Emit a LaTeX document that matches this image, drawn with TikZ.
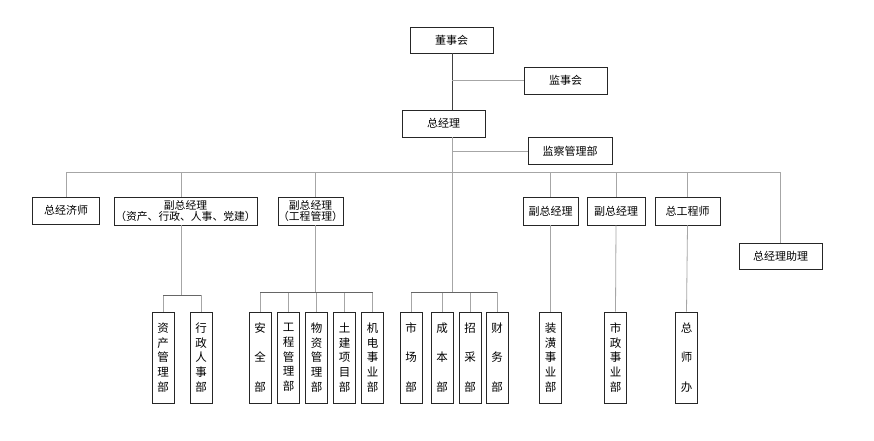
\documentclass[tikz,border=0pt]{standalone}
\usepackage{fontspec}
\newfontfamily\cjk{Noto Sans CJK SC}
\begin{document}
\begin{tikzpicture}[x=1pt,y=-1pt,
  box/.style={draw=black!85, line width=0.8pt, inner sep=0pt, font=\cjk\fontsize{11}{12}\selectfont, align=center},
  leaf/.style={box, minimum width=22pt, minimum height=91pt, font=\cjk\fontsize{11.5}{14.7}\selectfont},
  leafw/.style={leaf, font=\cjk\fontsize{11.5}{29.5}\selectfont},
  ln/.style={draw=black!35, line width=0.8pt},
  bus/.style={draw=black!60, line width=0.9pt},
  dark/.style={draw=black!75, line width=0.9pt}]
\useasboundingbox[fill=white] (0,0) rectangle (874,440);

% top levels
\node[box, minimum width=83pt, minimum height=26pt] (dsh) at (451.5,40) {董事会};
\node[box, minimum width=83pt, minimum height=27pt] (jsh) at (565.5,80.5) {监事会};
\node[box, minimum width=83pt, minimum height=27pt] (zjl) at (443.5,123.5) {总经理};
\node[box, minimum width=84pt, minimum height=27pt] (jcg) at (570,151) {监察管理部};

% level 2
\node[box, minimum width=67pt, minimum height=27pt] (zjjs) at (66,210.5) {总经济师};
\node[box, minimum width=143pt, minimum height=28pt, font=\cjk\fontsize{10.8}{11.5}\selectfont] (fz1) at (185.5,211) {副总经理\\（资产、行政、人事、党建）};
\node[box, minimum width=63pt, minimum height=28pt, font=\cjk\fontsize{10.8}{11.5}\selectfont] (fz2) at (310.5,211) {副总经理\\（工程管理）};
\node[box, minimum width=55pt, minimum height=28pt] (fz3) at (550.5,211) {副总经理};
\node[box, minimum width=58pt, minimum height=28pt] (fz4) at (616,211) {副总经理};
\node[box, minimum width=65pt, minimum height=28pt] (zgcs) at (687.5,211) {总工程师};
\node[box, minimum width=83pt, minimum height=26pt] (zjlzl) at (780.5,256) {总经理助理};

% leaves
\node[leaf] (zc) at (163,357.5) {资\\产\\管\\理\\部};
\node[leaf] (xz) at (201,357.5) {行\\政\\人\\事\\部};
\node[leafw] (aq) at (260,357.5) {安\\全\\部};
\node[leaf] (gc) at (288.5,357.5) {工\\程\\管\\理\\部};
\node[leaf] (wz) at (316.5,357.5) {物\\资\\管\\理\\部};
\node[leaf] (tj) at (344.5,357.5) {土\\建\\项\\目\\部};
\node[leaf] (jd) at (372.5,357.5) {机\\电\\事\\业\\部};
\node[leafw] (sc) at (411,357.5) {市\\场\\部};
\node[leafw] (cb) at (442,357.5) {成\\本\\部};
\node[leafw] (zcai) at (470,357.5) {招\\采\\部};
\node[leafw] (cw) at (497,357.5) {财\\务\\部};
\node[leaf] (zh) at (550.5,357.5) {装\\潢\\事\\业\\部};
\node[leaf] (sz) at (615.5,357.5) {市\\政\\事\\业\\部};
\node[leafw] (zsb) at (686.5,357.5) {总\\师\\办};

% junction coordinates
\coordinate (tr) at (452,172);
\coordinate (j1) at (181,295);
\coordinate (j2) at (315,292);
\coordinate (j3) at (452,292);

% trunk
\draw[dark] (dsh.south -| tr) -- (zjl.north -| tr);
\draw[ln] (jsh.west -| tr) -- (jsh.west);
\draw[ln] (zjl.south -| tr) -- (j3);
\draw[ln] (jcg.west -| tr) -- (jcg.west);

% level 2 bus
\draw[ln] (zjjs.north) -- (zjjs.north |- tr) -- (zjlzl.north |- tr) -- (zjlzl.north);
\draw[ln] (j1 |- tr) -- (j1 |- fz1.north);
\draw[ln] (j2 |- tr) -- (j2 |- fz2.north);
\draw[ln] (fz3.north |- tr) -- (fz3.north);
\draw[ln] (fz4.north |- tr) -- (fz4.north);
\draw[ln] (zgcs.north |- tr) -- (zgcs.north);

% level 3
\draw[ln] (j1 |- fz1.south) -- (j1);
\draw[ln] (j2 |- fz2.south) -- (j2);
\draw[ln] (fz3.south) -- (zh.north);
\draw[ln] (fz4.south) -- (sz.north);
\draw[ln] (zgcs.south) -- (zsb.north);

\foreach \n in {zc,xz} \draw[ln] (\n.north) -- (\n.north |- j1);
\foreach \n in {aq,gc,wz,tj,jd} \draw[ln] (\n.north) -- (\n.north |- j2);
\foreach \n in {sc,cb,zcai,cw} \draw[ln] (\n.north) -- (\n.north |- j3);
\draw[bus] (zc.north |- j1) -- (xz.north |- j1);
\draw[bus] (aq.north |- j2) -- (jd.north |- j2);
\draw[bus] (sc.north |- j3) -- (cw.north |- j3);
\end{tikzpicture}
\end{document}
